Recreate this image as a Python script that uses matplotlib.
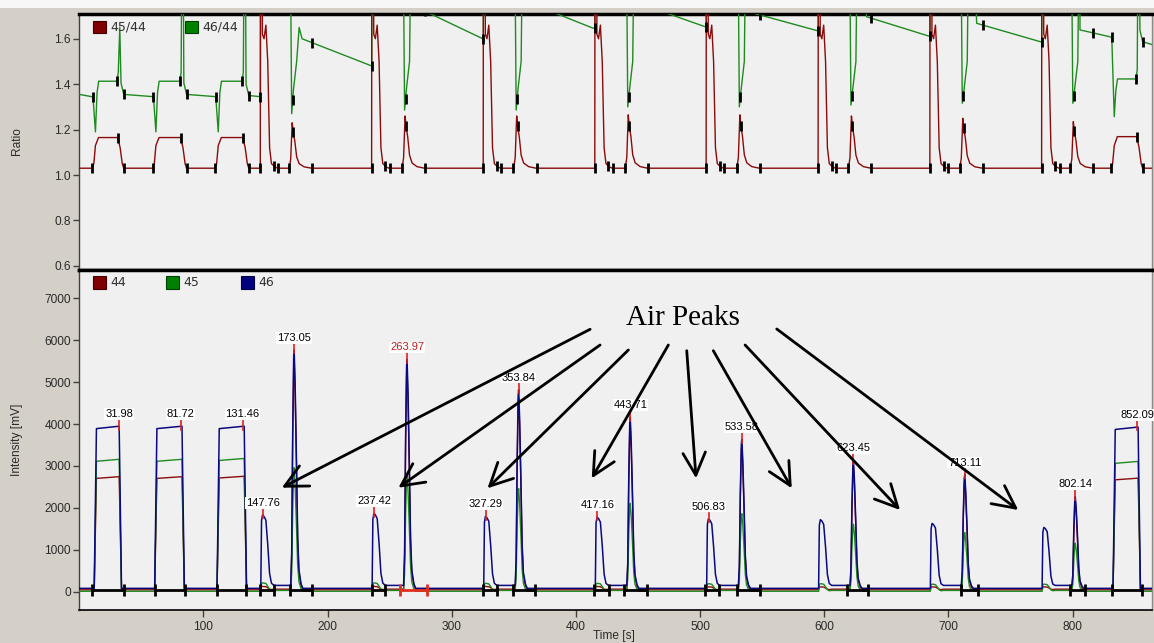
import numpy as np
import matplotlib
matplotlib.use("Agg")
import matplotlib.pyplot as plt
from matplotlib.patches import Rectangle

# ---------------- data ----------------
# reference-gas plateaus
ref_rise = [13.5, 62.2, 112.4, 834.0]
ref_fall = [32.4, 83.0, 133.1, 853.0]
ref_44 = [2700, 2700, 2710, 2665]
ref_45 = [3150, 3150, 3170, 3100]
ref_46 = [3870, 3870, 3870, 3850]
ref_r4544 = [1.165, 1.165, 1.165, 1.169]
ref_r4644 = [1.413, 1.413, 1.413, 1.423]
ref_r4644_pre = [1.345, 1.345, 1.345, 1.607]
ref_r4644_dip = [1.19, 1.19, 1.19, 1.257]
ref_r4644_spike = [1.65, 2.5, 2.5, 2.5]
ref_r4644_after = [1.355, 1.355, 1.35, 1.587]

# air peaks
air_t = [147.76, 237.42, 327.29, 417.16, 506.83, 597.0, 687.0, 777.0]
air_46 = [1750, 1790, 1720, 1700, 1660, 1640, 1550, 1455]
air_45 = [200, 200, 190, 190, 180, 180, 170, 170]
air_44 = [80, 80, 80, 80, 70, 70, 70, 70]
air_r4644_pre = [1.345, 1.480, 1.600, 1.646, 1.653, 1.636, 1.612, 1.587]

# sample peaks
samp_t = [173.05, 263.97, 353.84, 443.71, 533.58, 623.45, 713.11, 802.14]
samp_46 = [5690, 5460, 4740, 4080, 3560, 3050, 2710, 2190]
samp_45 = [2950, 2800, 2450, 2100, 1850, 1600, 1400, 1150]
samp_44 = [5500, 5280, 4580, 3950, 3440, 2950, 2620, 2120]
samp_r4544 = [1.23, 1.26, 1.26, 1.265, 1.265, 1.26, 1.25, 1.235]
samp_r4644_dip = [1.27, 1.286, 1.286, 1.30, 1.30, 1.308, 1.316, 1.316]
samp_r4644_rebound = [1.65, 2.5, 2.5, 2.5, 2.5, 2.5, 2.5, 2.5]
decl_t0 = [179.4, 268.5, 358.9, 448.0, 538.0, 634.0, 722.7, 805.9]
decl_v0 = [1.600, 1.747, 1.766, 1.761, 1.720, 1.697, 1.668, 1.639]
decl_t1 = [235.6, 325.0, 414.0, 504.0, 594.0, 684.0, 774.0, 831.4]
decl_v1 = [1.480, 1.600, 1.646, 1.653, 1.636, 1.612, 1.587, 1.607]

# peak labels
lab_t = [31.98, 81.72, 131.46, 147.76, 173.05, 237.42, 263.97, 327.29, 353.84,
         417.16, 443.71, 506.83, 533.58, 623.45, 713.11, 802.14, 852.09]
lab_h = [3870, 3870, 3870, 1750, 5690, 1790, 5460, 1720, 4740,
         1700, 4080, 1660, 3560, 3050, 2710, 2190, 3850]
lab_txt = ['31.98', '81.72', '131.46', '147.76', '173.05', '237.42', '263.97', '327.29',
           '353.84', '417.16', '443.71', '506.83', '533.58', '623.45', '713.11',
           '802.14', '852.09']
lab_col = ['black'] * 6 + ['#c02020'] + ['black'] * 10

# peak integration limits (start, end) shown as baseline markers
pk_start = [10.6, 61.1, 110.8, 145.6, 169.4, 235.5, 325.2, 349.3, 414.4, 438.6,
            504.2, 529.4, 618.5, 710.0, 797.5, 831.4]
pk_end = [35.6, 85.3, 134.4, 156.4, 187.5, 246.5, 336.5, 366.8, 426.5, 457.4,
          515.0, 548.1, 635.0, 723.7, 810.0, 855.6]
sel_start, sel_end = 258.5, 280.0

# shape profiles (time offset in s, fraction of height)
plat_rise_dt = [-1.5, -0.4, 0.3]
plat_rise_f = [0.0, 0.63, 0.985]
plat_fall_dt = [-0.3, 0.4, 1.6]
plat_fall_f = [1.0, 0.62, 0.0]
air_dt = [-1.6, -1.0, -0.2, 1.0, 2.5, 4.0, 5.5, 7.0, 9.0]
air_f = [0.0, 0.92, 1.0, 0.98, 0.93, 0.6, 0.2, 0.07, 0.04]
samp_dt = [-2.8, -2.0, -1.2, -0.4, 0.0, 0.8, 1.8, 2.8, 3.8, 5.5, 7.0]
samp_f = [0.0, 0.15, 0.65, 0.97, 1.0, 0.85, 0.55, 0.22, 0.08, 0.02, 0.0]
r45_air_dt = [-2.0, -1.8, -0.6, -0.3, 1.0, 2.5, 4.0, 5.5, 7.0, 10.0, 12.0]
r45_air_v = [1.03, 2.5, 2.5, 1.62, 1.60, 1.66, 1.50, 1.12, 1.05, 1.035, 1.03]
r45_samp_dt = [-4.0, -2.8, -1.6, -0.8, 0.5, 2.0, 4.0, 8.0, 14.0]
r45_samp_f = [0.0, 0.2, 1.0, 0.8, 0.6, 0.25, 0.1, 0.03, 0.0]

T_END = 863.5
base46, shelf46, base45, base44 = 80.0, 150.0, 10.0, 45.0

# ---------------- build traces ----------------
def concat(feats):
    feats = sorted(feats, key=lambda f: f[0][0])
    t = np.concatenate([np.asarray(f[0], float) for f in feats])
    v = np.concatenate([np.asarray(f[1], float) for f in feats])
    return t, v


def intensity(ref_h, air_h, samp_h, base, shelf):
    feats = [([0.0], [base]), ([T_END], [base])]
    for r, f, h in zip(ref_rise, ref_fall, ref_h):
        t = [r + d for d in plat_rise_dt] + [f + d for d in plat_fall_dt]
        v = [base + h * q for q in plat_rise_f] + [base + h * q for q in plat_fall_f]
        feats.append((t, v))
    for a, h in zip(air_t, air_h):
        v = [base + h * q for q in air_f]
        v[-1] = shelf
        feats.append(([a + d for d in air_dt], v))
    for s, h in zip(samp_t, samp_h):
        v = [base + h * q for q in samp_f]
        v[0] = shelf
        feats.append(([s + d for d in samp_dt], v))
    return concat(feats)


t46, v46 = intensity(ref_46, air_46, samp_46, base46, shelf46)
t45, v45 = intensity(ref_45, air_45, samp_45, base45, base45 + 20)
t44, v44 = intensity(ref_44, air_44, samp_44, base44, base44 + 15)

# ratio 45/44
feats = [([0.0], [1.03]), ([T_END], [1.03])]
for r, f, lv in zip(ref_rise, ref_fall, ref_r4544):
    feats.append(([r - 3.2, r - 1.8, r - 0.5, r + 2.0, f - 1.4, f + 0.5, f + 2.2, f + 3.4],
                  [1.03, 1.05, 1.13, lv, lv, 1.12, 1.05, 1.03]))
for a in air_t:
    feats.append(([a + d for d in r45_air_dt], r45_air_v))
for s, pk in zip(samp_t, samp_r4544):
    feats.append(([s + d for d in r45_samp_dt], [1.03 + (pk - 1.03) * q for q in r45_samp_f]))
tr45, vr45 = concat(feats)

# ratio 46/44
feats = [([0.0, 10.0], [1.355, 1.345])]
for r, f, pre, dip, lv, sp, af in zip(ref_rise, ref_fall, ref_r4644_pre, ref_r4644_dip,
                                      ref_r4644, ref_r4644_spike, ref_r4644_after):
    feats.append(([r - 2.5, r - 0.5, r + 0.8, r + 2.1, f - 2.0, f - 1.0, f + 0.2, f + 1.2, f + 3.4],
                  [pre, dip, lv - 0.05, lv, lv, lv + 0.04, sp, af + 0.05, af]))
feats.append(([T_END], [1.575]))
for a, pre in zip(air_t, air_r4644_pre):
    feats.append(([a - 1.9, a - 1.5], [pre, 2.5]))
for k, s in enumerate(samp_t):
    feats.append(([s - 3.8, s - 2.0, s - 0.5, s + 2.0, s + 4.0, decl_t0[k], decl_t1[k]],
                  [2.5, samp_r4644_dip[k], 1.38, 1.50, samp_r4644_rebound[k], decl_v0[k], decl_v1[k]]))
tr46, vr46 = concat(feats)

# ratio marker times
mk45 = ([r - 3.2 for r in ref_rise] + [f - 1.4 for f in ref_fall] + [f + 3.4 for f in ref_fall]
        + [a - 2.0 for a in air_t] + [a + 9.0 for a in air_t] + [a + 12.5 for a in air_t]
        + [s - 4.2 for s in samp_t] + [s - 0.8 for s in samp_t] + [s + 14.5 for s in samp_t])
mk46 = ([r - 2.5 for r in ref_rise] + [f - 2.0 for f in ref_fall] + [f + 3.4 for f in ref_fall]
        + [a - 1.9 for a in air_t] + [s - 1.2 for s in samp_t] + [s + 14.5 for s in samp_t])

# ---------------- figure ----------------
W, H = 1154, 643
fig = plt.figure(figsize=(W / 100, H / 100), dpi=100, facecolor='#d4d0c8')


def fx(px):
    return px / W


def fy(py):
    return 1 - py / H


fig.add_artist(Rectangle((0, fy(8)), 1, 8 / H, transform=fig.transFigure,
                         facecolor='#f7f7f7', edgecolor='none', zorder=0))

L, R = 79.3, 1151.5
TOP, MID, BOT = 14.0, 269.5, 610.0
ax1 = fig.add_axes([fx(L), fy(MID), (R - L) / W, (MID - TOP) / H])
ax2 = fig.add_axes([fx(L), fy(BOT), (R - L) / W, (BOT - MID) / H])

RED, GREEN, BLUE = '#8b0a0a', '#1f8a1f', '#0a0a80'
tick_font = dict(family='Liberation Sans', size=8.6)

for ax in (ax1, ax2):
    ax.set_facecolor('#f0f0f0')
    ax.set_xlim(0, 863.5)
    ax.spines['left'].set_color('#404040')
    ax.spines['left'].set_linewidth(1.0)
    ax.spines['right'].set_color('#8a8a8a')
    ax.spines['right'].set_linewidth(1.0)
    ax.tick_params(axis='y', direction='out', length=4, width=1, color='#404040',
                   labelcolor='#2a2a2a', pad=2)

ax1.spines['top'].set_linewidth(2.5)
ax1.spines['top'].set_color('black')
ax1.spines['bottom'].set_linewidth(2.5)
ax1.spines['bottom'].set_color('black')
ax2.spines['top'].set_linewidth(2.5)
ax2.spines['top'].set_color('black')
ax2.spines['bottom'].set_linewidth(1.2)
ax2.spines['bottom'].set_color('black')

# ----- top panel -----
ax1.set_ylim(0.584, 1.709)
ax1.set_yticks([0.6, 0.8, 1.0, 1.2, 1.4, 1.6])
ax1.set_yticklabels(['0.6', '0.8', '1.0', '1.2', '1.4', '1.6'], **tick_font)
ax1.set_xticks([])
ax1.plot(tr46, vr46, color=GREEN, lw=1.0, zorder=3)
ax1.plot(tr45, vr45, color=RED, lw=1.0, zorder=4)
ax1.plot(mk45, np.interp(mk45, tr45, vr45), ls='none', marker='|', ms=7, mew=2,
         color='black', zorder=5)
ax1.plot(mk46, np.interp(mk46, tr46, vr46), ls='none', marker='|', ms=7, mew=2,
         color='black', zorder=5)

# ----- bottom panel -----
ax2.set_ylim(-437, 7690)
ax2.set_yticks(range(0, 7001, 1000))
ax2.set_yticklabels([str(v) for v in range(0, 7001, 1000)], **tick_font)
ax2.set_xticks(range(100, 801, 100))
ax2.set_xticklabels([str(v) for v in range(100, 801, 100)], **tick_font)
ax2.tick_params(axis='x', direction='out', length=5, width=1, color='#404040',
                labelcolor='#2a2a2a', pad=3)

ax2.plot(t44, v44, color=RED, lw=1.0, zorder=3)
ax2.plot(t45, v45, color=GREEN, lw=1.0, zorder=3)
ax2.plot(t46, v46, color=BLUE, lw=1.1, zorder=4)

for s0, s1 in zip(pk_start, pk_end):
    ax2.plot([s0, s1], [50, 50], color='black', lw=2.0, zorder=5,
             marker='|', ms=9, mew=2)
ax2.plot([sel_start, sel_end], [50, 50], color='#e03020', lw=2.0, zorder=5,
         marker='|', ms=9, mew=2)

for t, h, txt, c in zip(lab_t, lab_h, lab_txt, lab_col):
    ax2.plot([t, t], [h, h + 230], color='#e02020', lw=1.2, zorder=5)
    ax2.text(t, h + 250, txt, ha='center', va='bottom', color=c, fontsize=8,
             family='Liberation Sans', zorder=6,
             bbox=dict(facecolor='white', edgecolor='none', pad=0.6))

# Air Peaks annotation
ax2.text(486.2, 6365, 'Air Peaks', ha='center', va='baseline', fontsize=21,
         family='Liberation Serif', color='black', zorder=7)
arrow_start = [(411.4, 6263), (419.4, 5888), (442.2, 5769), (474.4, 5888),
               (489.2, 5752), (510.6, 5752), (536.2, 5888), (561.7, 6270)]
arrow_end = [(163.1, 2482), (257.0, 2482), (328.7, 2468), (412.7, 2706),
             (496.7, 2706), (573.8, 2468), (661.0, 1950), (756.2, 1950)]
for st, en in zip(arrow_start, arrow_end):
    ax2.annotate('', xy=en, xytext=st, zorder=8,
                 arrowprops=dict(arrowstyle='->,head_length=0.9,head_width=0.45',
                                 lw=2.0, color='black', mutation_scale=18,
                                 shrinkA=0, shrinkB=0))

# ----- legends -----
def legend_item(px, py, color, edge, txt):
    fig.add_artist(Rectangle((fx(px), fy(py + 12.5)), 13.3 / W, 12.5 / H,
                             transform=fig.transFigure, facecolor=color,
                             edgecolor=edge, lw=0.8, zorder=10))
    fig.text(fx(px + 17.5), fy(py + 6.5), txt, ha='left', va='center', fontsize=9,
             family='DejaVu Sans', color='#303030', zorder=10)


legend_item(92.7, 20.7, '#800000', '#400000', '45/44')
legend_item(185.0, 20.7, '#008000', '#004000', '46/44')
legend_item(92.7, 276.3, '#800000', '#400000', '44')
legend_item(166.0, 276.3, '#008000', '#004000', '45')
legend_item(240.7, 276.3, '#000080', '#000040', '46')

# axis titles
fig.text(fx(17), fy(141), 'Ratio', rotation=90, ha='center', va='center',
         fontsize=8.6, family='Liberation Sans', color='#2a2a2a')
fig.text(fx(17), fy(440), 'Intensity [mV]', rotation=90, ha='center', va='center',
         fontsize=8.6, family='Liberation Sans', color='#2a2a2a')
fig.text(fx(614), fy(641.5), 'Time [s]', ha='center', va='bottom',
         fontsize=8.6, family='Liberation Sans', color='#2a2a2a')

fig.savefig('out.png', dpi=100, facecolor=fig.get_facecolor())
